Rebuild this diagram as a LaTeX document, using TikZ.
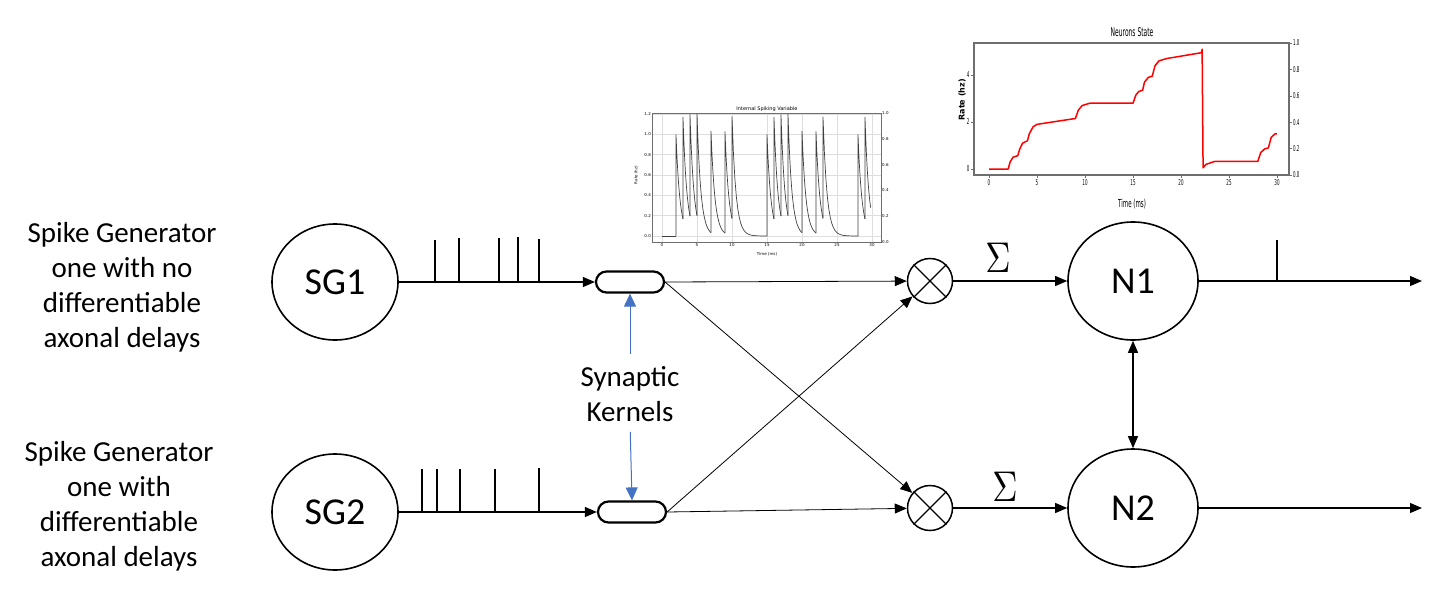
\documentclass[tikz,border=0pt]{standalone}
\usepackage{fontspec}
\setmainfont{Carlito}
\newfontfamily\plotfont{DejaVu Sans}
\usetikzlibrary{arrows.meta,shapes.geometric,shapes.misc}
\definecolor{kblue}{RGB}{68,114,196}
\definecolor{gridgray}{RGB}{222,222,222}
\definecolor{axgray}{RGB}{110,110,110}
\newcommand\sqz[1]{\scalebox{0.5}[1]{#1}}
\begin{document}
\begin{tikzpicture}[x=1pt,y=-1pt,
  bignode/.style={ellipse, draw, line width=1.6pt, minimum width=126pt, minimum height=116pt, inner sep=0pt, font=\fontsize{38}{40}\selectfont},
  kernel/.style={rounded rectangle, draw, line width=2.2pt, minimum width=68pt, minimum height=21pt, inner sep=0pt},
  mult/.style={circle, draw, line width=1.5pt, minimum size=45pt, inner sep=0pt},
  conn/.style={line width=1.1pt, -{Triangle[length=12pt,width=10pt]}},
  crossconn/.style={line width=0.8pt, -{Triangle[length=12pt,width=10pt]}},
  barrow/.style={kblue, line width=1pt, -{Triangle[length=13pt,width=12pt]}},
  spikeline/.style={line width=1.1pt},
  desc/.style={align=center, inner sep=0pt, font=\fontsize{29}{35}\selectfont},
  sumsign/.style={inner sep=0pt},
  trace/.style={black!75, line width=0.7pt},
  tinyfont/.style={font=\plotfont\fontsize{4}{4}\selectfont, inner sep=1pt},
  smallfont/.style={font=\plotfont\fontsize{8}{8}\selectfont, inner sep=1.5pt}
]
\useasboundingbox (0,0) rectangle (1436,616);

% ---------- plot 1: Internal Spiking Variable ----------
\begin{scope}[shift={(662pt,-236pt)}, x=7pt, y=101.7pt]
  \foreach \t in {0,5,...,30} \draw[gridgray, line width=0.4pt] (\t,-0.059) -- (\t,1.209);
  \foreach \v in {0,0.2,0.4,0.6,0.8,1.0,1.2} \draw[gridgray, line width=0.4pt] (-1.43,\v) -- (31.29,\v);
  \draw[axgray, line width=0.6pt] (-1.43,-0.059) rectangle (31.29,1.209);
  \foreach \t in {0,5,...,30} \node[tinyfont, below] at (\t,-0.059) {\t};
  \foreach \v/\l in {0/0.0,0.2/0.2,0.4/0.4,0.6/0.6,0.8/0.8,1.0/1.0,1.2/1.2} \node[tinyfont, left] at (-1.43,\v) {\l};
  \foreach \r/\l in {0/0.0,0.2/0.2,0.4/0.4,0.6/0.6,0.8/0.8,1.0/1.0} \node[tinyfont, right] at (31.29,{-0.059+\r*1.268}) {\l};
  \node[font=\plotfont\fontsize{5}{5}\selectfont, above, inner sep=1.5pt] at (15,1.209) {Internal Spiking Variable};
  \node[tinyfont] at (15,-0.177) {Time (ms)};
  \node[tinyfont, rotate=90] at (-3.71,0.6) {Rate (hz)};
  \draw[trace] (0,0) -- (2,0);
  \foreach \a/\b/\v/\p in {2/3/1.0/0, 3/4/1.168/0.168, 4/5/1.196/0.196, 5/7/1.2006/0.2006,
     7/9/1.034/0.034, 9/10/1.029/0.029, 10/15/1.173/0.173, 15/16/1.0/0.0,
     16/17/1.168/0.168, 17/18/1.196/0.196, 18/20/1.2006/0.2006, 20/22/1.034/0.034,
     22/23/1.029/0.029, 23/28/1.173/0.173, 28/29/1.0/0.0, 29/29.8/1.168/0.168}
    \draw[trace] (\a,\p) -- plot[domain=\a:\b, samples=25] (\x,{\v*exp(-(\x-\a)/0.56)});
\end{scope}

% ---------- plot 2: Neurons State ----------
\begin{scope}[shift={(989pt,-169pt)}, x=9.6pt, y=23.5pt]
  \draw[axgray, line width=1.2pt] (-1.5625,-0.255) rectangle (31.25,5.36);
  \foreach \t in {0,5,...,30} {
    \draw[axgray, line width=0.6pt] (\t,-0.255) -- ++(0,-0.12);
    \node[smallfont, below] at (\t,-0.37) {\sqz{\t}};}
  \foreach \v in {0,2,4} {
    \draw[axgray, line width=0.6pt] (-1.5625,\v) -- ++(-0.3,0);
    \node[smallfont, left] at (-1.86,\v) {\sqz{\v}};}
  \foreach \r/\l in {0/0.0,0.2/0.2,0.4/0.4,0.6/0.6,0.8/0.8,1.0/1.0} {
    \draw[axgray, line width=0.6pt] (31.25,{-0.255+\r*5.615}) -- ++(0.3,0);
    \node[smallfont, right] at (31.5,{-0.255+\r*5.615}) {\sqz{\l}};}
  \node[font=\plotfont\fontsize{12}{12}\selectfont] at (14.9,5.83) {\sqz{Neurons State}};
  \node[font=\plotfont\fontsize{11}{11}\selectfont] at (14.9,-1.49) {\sqz{Time (ms)}};
  \node[font=\plotfont\bfseries\fontsize{8}{8}\selectfont, rotate=90] at (-2.81,2.94) {Rate (hz)};
  \draw[red, line width=1.5pt, line join=round] plot coordinates {
    (0,0) (2,0) (2.2,0.3) (2.5,0.5) (3,0.57) (3.2,0.85) (3.5,1.1) (4,1.2) (4.2,1.5) (4.6,1.8)
    (5,1.9) (9,2.15) (9.3,2.5) (9.7,2.7) (10.5,2.8) (15,2.8) (15.3,3.15) (15.6,3.3) (16,3.35)
    (16.2,3.7) (16.6,3.9) (17,3.95) (17.3,4.4) (17.7,4.6) (18.5,4.7) (22.15,4.95) (22.2,5.1)
    (22.3,0.05) (22.6,0.2) (23.5,0.32) (28,0.32) (28.3,0.7) (28.7,0.85) (29.1,0.9)
    (29.4,1.35) (29.8,1.5) (30,1.5)};
\end{scope}

% ---------- nodes ----------
\node[bignode] (sg1) at (335,282) {SG1};
\node[bignode] (sg2) at (335,512) {SG2};
\node[bignode, minimum width=130pt, minimum height=118pt] (n1) at (1133,281) {N1};
\node[bignode, minimum width=130pt, minimum height=118pt] (n2) at (1133,508) {N2};
\node[kernel] (k1) at (630,282) {};
\node[kernel] (k2) at (632,512) {};
\node[mult] (m1) at (930,281) {};
\node[mult] (m2) at (930,508) {};
\draw[line width=1.3pt] (m1.north west) -- (m1.south east) (m1.north east) -- (m1.south west);
\draw[line width=1.3pt] (m2.north west) -- (m2.south east) (m2.north east) -- (m2.south west);

\node[desc] (t1) at (122,287) {Spike Generator\\one with no\\differentiable\\axonal delays};
\node[desc] (t2) at (119,506) {Spike Generator\\one with\\differentiable\\axonal delays};
\node[desc] (sk) at (630,394) {Synaptic\\Kernels};

\node[sumsign] (s1) at (998,258) {\scalebox{3.5}[4.3]{$\Sigma$}};
\node[sumsign] (s2) at (1005,487) {\scalebox{3.5}[4.3]{$\Sigma$}};

\coordinate (o1) at (1422,281);
\coordinate (o2) at (1422,508);

% ---------- connectors ----------
\draw[conn] (sg1) -- (k1);
\draw[conn] (sg2) -- (k2);
\draw[crossconn] (k1.east) -- (m1);
\draw[crossconn] (k1.east) -- (m2);
\draw[crossconn] (k2.east) -- (m1);
\draw[crossconn] (k2.east) -- (m2);
\draw[conn] (m1) -- (n1);
\draw[conn] (m2) -- (n2);
\draw[conn] (n1) -- (o1);
\draw[conn] (n2) -- (o2);
\draw[line width=1.1pt, {Triangle[length=12pt,width=10pt]}-{Triangle[length=12pt,width=10pt]}] (n1) -- (n2);
\draw[barrow, shorten <=12pt] (sk.north) -- (k1.south);
\draw[barrow, shorten <=10pt] (sk.south) -- (k2.north);

% ---------- spikes ----------
\foreach \sx/\sy in {435/240, 459/238, 499/238, 518/237, 539/239}
  \draw[spikeline] (\sx,282) -- (\sx,\sy);
\foreach \sx/\sy in {422/469, 437/469, 460/469, 495/469, 539/468}
  \draw[spikeline] (\sx,512) -- (\sx,\sy);
\draw[spikeline] (1277,281) -- (1277,240);
\end{tikzpicture}
\end{document}
